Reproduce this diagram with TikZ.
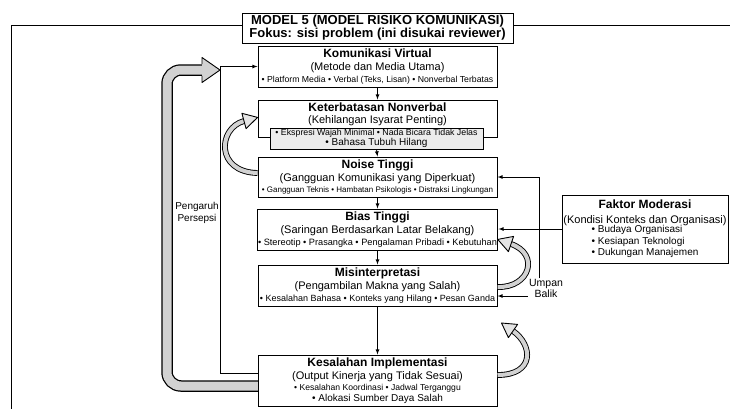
\documentclass[tikz,border=0pt]{standalone}
\usepackage{fontspec}
\setmainfont{Liberation Sans}
\newcommand{\boxtitle}{\bfseries\fontsize{12}{12}\selectfont}
\newcommand{\boxsub}{\mdseries\fontsize{11}{12}\selectfont}
\newcommand{\boxlist}[1]{\mdseries\fontsize{#1}{12}\selectfont}

\begin{document}
\begin{tikzpicture}[x=1pt, y=-1pt,
    stage/.style={draw, line width=1pt, fill=white, minimum width=239pt, align=center, inner sep=1pt},
    arr/.style={-latex, line width=0.8pt},
    fat/.style={draw=gray!35, line width=9pt, preaction={draw=black, line width=11.5pt}},
    ribbon/.style={draw=gray!35, line width=4pt, preaction={draw=black, line width=5.8pt}},
    ribbonhead/.style={fill=gray!20, draw=black, line width=0.9pt, line join=round}]
    \useasboundingbox (0,0) rectangle (730,408);

    % frame and title
    \draw[line width=1pt] (11,410) -- (11,25) -- (732,25);
    \node[draw, line width=1pt, fill=white, minimum width=271pt, minimum height=30pt, inner sep=1pt,
        align=center, font=\bfseries\fontsize{13}{13}\selectfont] (title) at (377.5,28)
        {MODEL 5 (MODEL RISIKO KOMUNIKASI)\\Fokus: sisi problem (ini disukai reviewer)};

    % Pengaruh Persepsi loop
    \draw[fat, rounded corners=14pt] (258,386) -- (167,386) -- (167,70) -- (202.5,70);
    \fill[gray!35] (202,57.5) -- (220,70) -- (202,82.5) -- cycle;
    \draw[line width=0.9pt, line join=round] (202,64.2) -- (202,57.5) -- (220,70) -- (202,82.5) -- (202,75.8);

    % stages
    \node[stage, minimum height=41pt] (virtual) at (377.5,66.5)
        {\boxtitle Komunikasi Virtual\\[1pt] \boxsub (Metode dan Media Utama)\\[-0.5pt]
         \boxlist{8.7}• Platform Media • Verbal (Teks, Lisan) • Nonverbal Terbatas};
    \node[stage, minimum height=37pt, text depth=11pt] (keter) at (377.5,118.5)
        {\boxtitle Keterbatasan Nonverbal\\[0pt] \boxsub (Kehilangan Isyarat Penting)};
    \node[draw, line width=0.8pt, fill=gray!15, minimum width=213pt, minimum height=21pt, inner sep=1pt,
        align=center] (keterlist) at (376.5,138.5)
        {\boxlist{8.8}• Ekspresi Wajah Minimal • Nada Bicara Tidak Jelas\\[-2pt] • Bahasa Tubuh Hilang};
    \node[stage, minimum height=40pt] (noise) at (377.5,177)
        {\boxtitle Noise Tinggi\\[1pt] \boxsub (Gangguan Komunikasi yang Diperkuat)\\[-0.5pt]
         \boxlist{8}• Gangguan Teknis • Hambatan Psikologis • Distraksi Lingkungan};
    \node[stage, minimum height=41pt] (bias) at (377.5,229.5)
        {\boxtitle Bias Tinggi\\[1pt] \boxsub (Saringan Berdasarkan Latar Belakang)\\[-0.5pt]
         \boxlist{9.2}• Stereotip • Prasangka • Pengalaman Pribadi • Kebutuhan};
    \node[stage, minimum height=41pt] (misinterp) at (377.5,285.5)
        {\boxtitle Misinterpretasi\\[1pt] \boxsub (Pengambilan Makna yang Salah)\\[-0.5pt]
         \boxlist{9}• Kesalahan Bahasa • Konteks yang Hilang • Pesan Ganda};
    \node[stage, minimum height=51pt] (impl) at (377.5,380.5)
        {\boxtitle Kesalahan Implementasi\\[1pt] \boxsub (Output Kinerja yang Tidak Sesuai)\\[-0.5pt]
         \boxlist{8.6}• Kesalahan Koordinasi • Jadwal Terganggu\\[-1pt] • Alokasi Sumber Daya Salah};

    % moderating factor
    \node[draw, line width=1pt, fill=white, minimum width=166pt, minimum height=68pt, inner sep=1pt,
        align=center] (faktor) at (645,229)
        {\boxtitle Faktor Moderasi\\[3pt] \boxsub (Kondisi Konteks dan Organisasi)\\[-1.5pt]
         \fontsize{10}{11.3}\selectfont\begin{tabular}{@{}l@{}}• Budaya Organisasi\\• Kesiapan Teknologi\\• Dukungan Manajemen\end{tabular}};

    \node[align=center, inner sep=1pt, font=\fontsize{10.5}{10.5}\selectfont] (umpan) at (546,288.5) {Umpan\\Balik};
    \node[align=center, inner sep=1pt, font=\fontsize{10}{12.5}\selectfont] (persepsi) at (197,213) {Pengaruh\\Persepsi};

    % connectors
    \draw[arr] (virtual) -- (keter);
    \draw[arr] (keterlist.south) -- (noise.north);
    \draw[arr] (noise) -- (bias);
    \draw[arr] (bias) -- (misinterp);
    \draw[arr] (misinterp) -- (impl);
    \draw[arr] ([yshift=7pt]impl.west) -- ++(-37,0) |- (virtual.west);
    \draw[arr] ([xshift=-7pt]umpan.north) |- (noise.east);
    \draw[arr] ([yshift=-10.5pt]misinterp.east -| umpan.west) -- ([yshift=-10.5pt]misinterp.east);
    \draw[arr] (faktor.west) -- (faktor.west -| bias.east);

    % curved ribbons
    \draw[ribbon] ([yshift=4pt]noise.west) .. controls (215,172) and (218,128) .. (244,121);
    \filldraw[ribbonhead] (241.9,113.3) -- (257.5,117.4) -- (246.1,128.7) -- cycle;
    \draw[ribbon] ([yshift=-1.5pt]misinterp.east) .. controls (530,288) and (540,254) .. (511,244);
    \filldraw[ribbonhead] (513.6,236.4) -- (497.7,239.4) -- (508.4,251.6) -- cycle;
    \draw[ribbon] ([yshift=5.5pt]impl.east) .. controls (535,375) and (533,345) .. (513,331);
    \filldraw[ribbonhead] (517.6,324.4) -- (501.5,323) -- (508.4,337.6) -- cycle;
\end{tikzpicture}
\end{document}
